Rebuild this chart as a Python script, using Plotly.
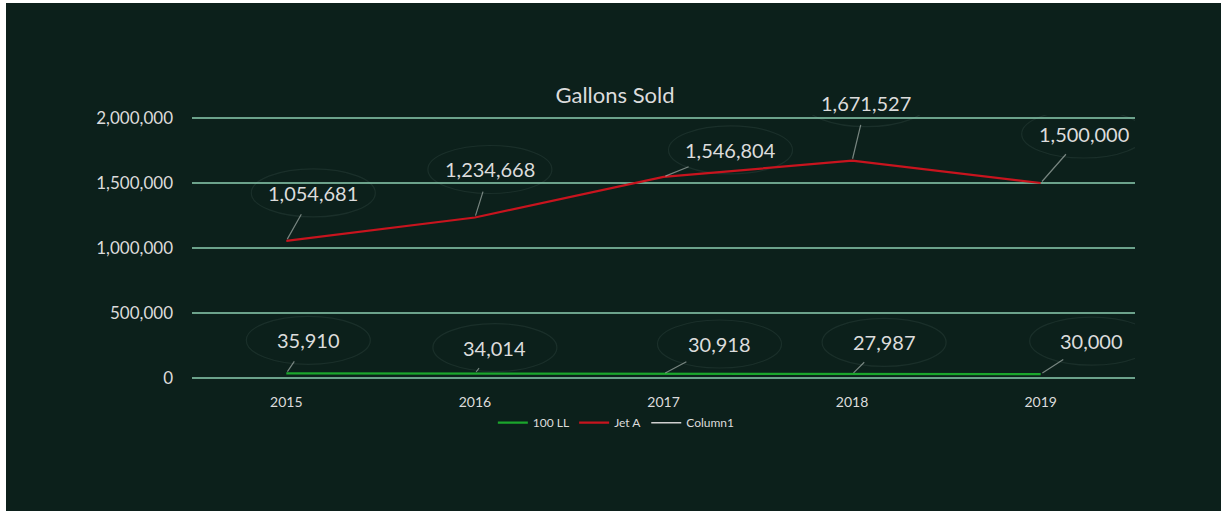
import plotly.graph_objects as go

years = ["2015", "2016", "2017", "2018", "2019"]
ll100 = [35910, 34014, 30918, 27987, 30000]
jet_a = [1054681, 1234668, 1546804, 1671527, 1500000]
column1 = [None, None, None, None, None]
y_ticks = [0, 500000, 1000000, 1500000, 2000000]

# label offsets (pixels) for the data-label callouts
jet_off = [(27, -48), (15, -48), (67, -27), (14, -58), (43, -49)]
ll_off = [(22, -33), (20, -26), (56, -30), (32, -32), (51, -33)]

BG = "#0c201b"
GRID = "rgba(140,205,178,0.75)"
TXT = "#dcdcdc"
FONT = "Lato"

fig = go.Figure()
fig.add_trace(go.Scatter(x=years, y=ll100, name="100 LL", mode="lines",
                         line=dict(color="#1ba62c", width=2.2)))
fig.add_trace(go.Scatter(x=years, y=jet_a, name="Jet A", mode="lines",
                         line=dict(color="#c8141e", width=2.2)))
fig.add_trace(go.Scatter(x=years, y=column1, name="Column1", mode="lines",
                         line=dict(color="#d0d0d0", width=1.5)))

ann = []
ellipses = []
for series, offs in ((jet_a, jet_off), (ll100, ll_off)):
    for i, (v, (dx, dy)) in enumerate(zip(series, offs)):
        # category axis: annotation x given as the category index
        ann.append(dict(x=i, y=v, xref="x", yref="y", text=f"{v:,}",
                        showarrow=True, arrowhead=0, axref="pixel", ayref="pixel",
                        arrowcolor="rgba(190,200,195,0.6)", arrowwidth=1.2,
                        ax=dx, ay=dy, standoff=2, startstandoff=9,
                        font=dict(size=20, color=TXT, family=FONT)))
        ellipses.append(dict(type="circle", xref="x", yref="y",
                             xsizemode="pixel", ysizemode="pixel",
                             xanchor=i, yanchor=v,
                             x0=dx - 62, x1=dx + 62, y0=-dy - 24, y1=-dy + 24,
                             line=dict(color="rgba(150,175,165,0.11)", width=1.2),
                             fillcolor="rgba(0,0,0,0)", layer="below"))

fig.update_layout(
    width=1221, height=511,
    margin=dict(l=192, r=86, t=115, b=133),
    paper_bgcolor=BG, plot_bgcolor=BG,
    font=dict(family=FONT, color=TXT),
    title=dict(text="Gallons Sold", x=615 / 1221, xanchor="center", y=1 - 95 / 511, yanchor="middle",
               xref="container", font=dict(size=22, color=TXT, family=FONT)),
    showlegend=True,
    legend=dict(orientation="h", x=0.45, xanchor="center", y=-0.17, yanchor="middle",
                font=dict(size=12, color=TXT, family=FONT), bgcolor="rgba(0,0,0,0)"),
    annotations=ann,
    shapes=ellipses + [
        dict(type="rect", xref="paper", yref="paper",
             x0=-192 / 943, x1=(1221 - 192) / 943, y0=1 + 112 / 263, y1=1 + 120 / 263,
             fillcolor="white", line=dict(width=0), layer="above"),
        dict(type="rect", xref="paper", yref="paper",
             x0=-194 / 943, x1=-186 / 943, y0=-140 / 263, y1=1 + 120 / 263,
             fillcolor="white", line=dict(width=0), layer="above"),
    ],
)
fig.update_xaxes(type="category", range=[-0.5, 4.5], showgrid=False, zeroline=False,
                 showline=False, ticks="", tickfont=dict(size=14, color=TXT, family=FONT),
                 ticklabelstandoff=14)
fig.update_yaxes(range=[0, 2023077], tickvals=y_ticks, tickformat=",d",
                 showgrid=True, gridcolor=GRID, gridwidth=1.5,
                 zeroline=True, zerolinecolor=GRID, zerolinewidth=1.5,
                 showline=False, ticks="", ticklabelstandoff=18,
                 tickfont=dict(size=17, color=TXT, family=FONT))

fig.write_html("out.html", config={"displayModeBar": False},
               post_script="document.body.style.margin='0px';")
